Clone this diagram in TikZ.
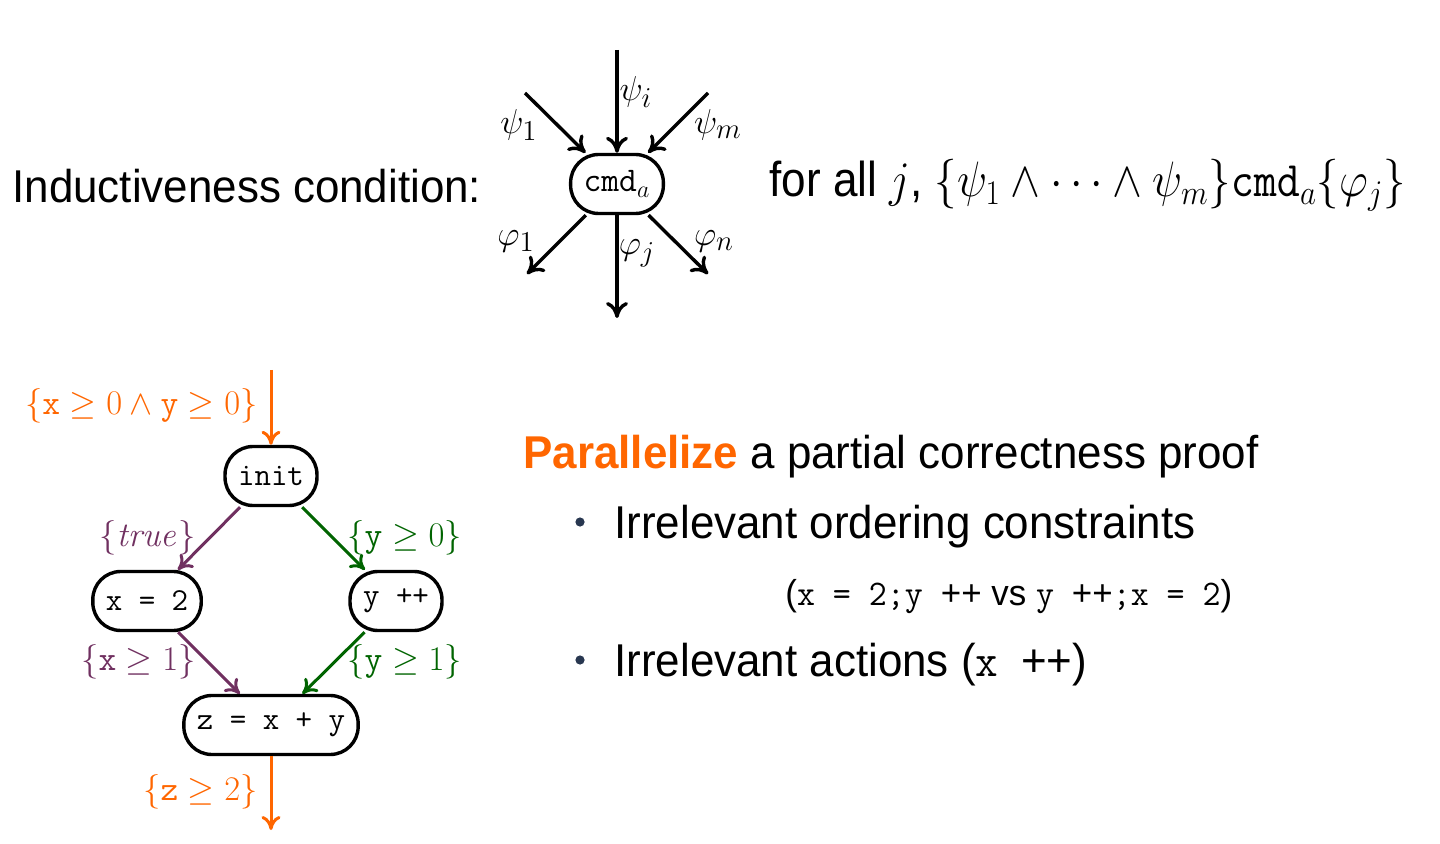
\documentclass[tikz,border=0pt]{standalone}
\usepackage[no-math]{fontspec}
\usepackage{amsmath,amssymb}
\usepackage{graphicx}
\usepackage{tikz}
\usetikzlibrary{arrows.meta}
\newfontfamily\slidefont{Liberation Sans}
\newcommand{\narrow}[2]{\scalebox{#1}[1]{#2}}
\definecolor{pumpkin}{RGB}{255, 102, 0}
\definecolor{plum}{RGB}{112, 48, 96}
\definecolor{forest}{RGB}{0, 100, 0}
\definecolor{midnight}{RGB}{40, 55, 80}
\tikzset{
  cmdbox/.style  = {draw, line width=1.7pt, rounded corners=14pt, minimum height=29.5pt,
                    inner xsep=6.5pt, inner ysep=0pt, font=\fontsize{18}{20}\selectfont},
  stmtbox/.style = {draw, line width=1.7pt, rounded corners=14pt, minimum height=29.5pt,
                    inner xsep=6.5pt, inner ysep=0pt, font=\fontsize{16}{18}\selectfont},
  wire/.style    = {-{To[length=8pt, width=11pt]}, line width=1.7pt},
  proof/.style   = {-{To[length=7pt, width=9.5pt]}, line width=1.5pt},
  assn/.style    = {inner sep=0pt, font=\fontsize{16.3}{18}\selectfont},
  lbl/.style     = {inner sep=0pt, font=\fontsize{19}{21}\selectfont},
  slide/.style   = {anchor=base west, inner sep=0pt, font=\slidefont\fontsize{23}{27}\selectfont}
}
\begin{document}
\begin{tikzpicture}[x=0.5pt, y=-0.5pt]
            \useasboundingbox                                     (0, 0) rectangle (1440, 844);
            % inductiveness condition
            \node[slide] (cond)                                   at (12, 203) {\narrow{0.955}{Inductiveness condition:}};
            \node[cmdbox] (cmd)                                   at (617, 184) {$\mathtt{cmd}_a$};
            \coordinate (in1) at (525, 93);   \coordinate (ini) at (617, 50);   \coordinate (inm) at (708, 93);
            \coordinate (out1) at (527, 274); \coordinate (outj) at (617, 318); \coordinate (outn) at (708, 274);
            \draw[wire] (in1) -- (cmd);
            \draw[wire] (ini) -- (cmd);
            \draw[wire] (inm) -- (cmd);
            \draw[wire] (cmd) -- (out1);
            \draw[wire] (cmd) -- (outj);
            \draw[wire] (cmd) -- (outn);
            \node[lbl] (psi1)                                     at (519, 125) {$\psi_1$};
            \node[lbl] (psii)                                     at (636, 92)  {$\psi_i$};
            \node[lbl] (psim)                                     at (718, 125) {$\psi_m$};
            \node[lbl] (phi1)                                     at (516, 241) {$\varphi_1$};
            \node[lbl] (phij)                                     at (637, 253) {$\varphi_j$};
            \node[lbl] (phin)                                     at (714, 241) {$\varphi_n$};
            \node[slide, font=\slidefont\fontsize{24.5}{28}\selectfont] (forall) at (769, 197)
                 {\narrow{0.9}{for all $j$, $\{\psi_1 \wedge\cdots\wedge \psi_m\}\mathtt{cmd}_a\{\varphi_j\}$}};
            % proof graph
            \node[stmtbox] (init)                                 at (271, 476) {\texttt{init}};
            \node[stmtbox] (setx)                                 at (147, 601) {\texttt{x = 2}};
            \node[stmtbox] (incy)                                 at (396, 601) {\texttt{y ++}};
            \node[stmtbox] (sum)                                  at (271, 725) {\texttt{z = x + y}};
            \coordinate (pre) at (271, 370);  \coordinate (post) at (271, 830);
            \draw[proof, pumpkin] (pre)  -- (init);
            \draw[proof, plum]    (init) -- (setx);
            \draw[proof, forest]  (init) -- (incy);
            \draw[proof, plum]    (setx) -- (sum);
            \draw[proof, forest]  (incy) -- (sum);
            \draw[proof, pumpkin] (sum)  -- (post);
            \node[assn, pumpkin, anchor=east] (apre)              at (258, 406) {$\{\mathtt{x}\geq 0\wedge\mathtt{y}\geq 0\}$};
            \node[assn, plum,    anchor=east] (atrue)             at (196, 538) {$\{\mathit{true}\}$};
            \node[assn, forest,  anchor=west] (ay0)               at (347, 538) {$\{\mathtt{y}\geq 0\}$};
            \node[assn, plum,    anchor=east] (ax1)               at (196, 662) {$\{\mathtt{x}\geq 1\}$};
            \node[assn, forest,  anchor=west] (ay1)               at (347, 662) {$\{\mathtt{y}\geq 1\}$};
            \node[assn, pumpkin, anchor=east] (apost)             at (258, 792) {$\{\mathtt{z}\geq 2\}$};
            % text
            \node[slide] (para)                                   at (523, 468)
                 {\narrow{0.955}{\textcolor{pumpkin}{\textbf{Parallelize}} a partial correctness proof}};
            \fill[midnight]                                       (580, 522) circle (2.3pt);
            \node[slide] (item1)                                  at (614, 538) {\narrow{0.955}{Irrelevant ordering constraints}};
            \node[slide, font=\slidefont\fontsize{18}{20}\selectfont] (swap) at (785, 605)
                 {\narrow{0.97}{(\texttt{x = 2;y }++ vs \texttt{y }++\texttt{;x = 2})}};
            \fill[midnight]                                       (580, 660) circle (2.3pt);
            \node[slide] (item2)                                  at (614, 676) {\narrow{0.955}{Irrelevant actions (\texttt{x }++)}};
            \end{tikzpicture}
\end{document}
